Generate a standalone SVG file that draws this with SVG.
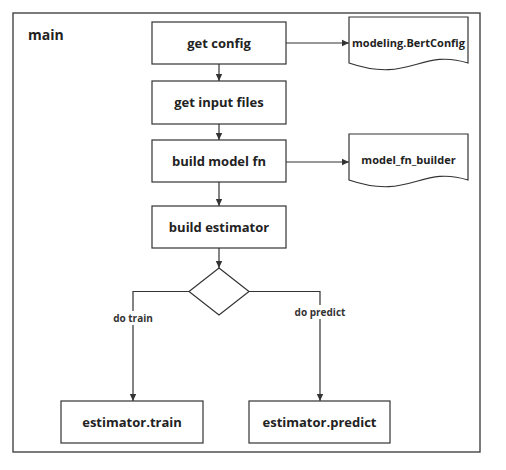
<svg xmlns="http://www.w3.org/2000/svg" width="506" height="470" viewBox="0 0 506 470">
<style>
.box{fill:#fff;stroke:#333;stroke-width:1.2}
.lbl{font-family:"Open Sans","Noto Sans",sans-serif;font-weight:bold;font-size:13px;fill:#222;text-anchor:middle}
.doc{font-family:"Open Sans","Noto Sans",sans-serif;font-weight:bold;font-size:11px;fill:#222;text-anchor:middle}
.edge{fill:none;stroke:#333;stroke-width:1.2}
.elbl{font-family:"Open Sans","Noto Sans",sans-serif;font-weight:bold;font-size:10px;fill:#333;text-anchor:middle}
</style>
<defs>
<marker id="arr" markerWidth="8" markerHeight="8" refX="7" refY="4" orient="auto" markerUnits="userSpaceOnUse">
<path d="M0,0.8 L7,4 L0,7.2 Z" fill="#333"/>
</marker>
</defs>
<rect width="506" height="470" fill="#fff"/>
<g id="frame">
<rect x="13" y="13" width="467" height="439" fill="none" stroke="#444" stroke-width="1.4"/>
<text x="28" y="40" font-family="Open Sans,Noto Sans,sans-serif" font-weight="bold" font-size="14" fill="#222">main</text>
</g>
<g id="get-config"><rect class="box" x="152" y="22" width="134" height="42"/><text class="lbl" x="219" y="48">get config</text></g>
<g id="get-input-files"><rect class="box" x="152" y="81" width="134" height="43"/><text class="lbl" x="219" y="107">get input files</text></g>
<g id="build-model-fn"><rect class="box" x="152" y="140" width="134" height="42"/><text class="lbl" x="219" y="166">build model fn</text></g>
<g id="build-estimator"><rect class="box" x="152" y="206" width="134" height="42"/><text class="lbl" x="219" y="232">build estimator</text></g>
<g id="decision"><path class="box" d="M219,268 L249,291.5 L219,315 L189,291.5 Z"/></g>
<g id="estimator-train"><rect class="box" x="61" y="401" width="142" height="42"/><text class="lbl" x="132" y="427">estimator.train</text></g>
<g id="estimator-predict"><rect class="box" x="249" y="401" width="141" height="42"/><text class="lbl" x="319.5" y="427">estimator.predict</text></g>
<g id="modeling-bertconfig"><path class="box" d="M349,17 L468,17 L468,63 C420,48 410,84 349,63 Z"/><text class="doc" x="408.5" y="47">modeling.BertConfig</text></g>
<g id="model-fn-builder"><path class="box" d="M349,134 L468,134 L468,180 C420,165 410,201 349,180 Z"/><text class="doc" x="408.5" y="164">model_fn_builder</text></g>
<g id="connectors">
<path class="edge" d="M219,64 L219,81" marker-end="url(#arr)"/>
<path class="edge" d="M219,124 L219,140" marker-end="url(#arr)"/>
<path class="edge" d="M219,182 L219,206" marker-end="url(#arr)"/>
<path class="edge" d="M219,248 L219,268" marker-end="url(#arr)"/>
<path class="edge" d="M286,43 L349,43" marker-end="url(#arr)"/>
<path class="edge" d="M286,162 L349,162" marker-end="url(#arr)"/>
<path class="edge" d="M189,291.5 L133,291.5 L133,401" marker-end="url(#arr)"/>
<path class="edge" d="M249,291.5 L320,291.5 L320,401" marker-end="url(#arr)"/>
<rect x="110" y="311" width="46" height="14" fill="#fff"/>
<text class="elbl" x="133" y="322">do train</text>
<rect x="292" y="305" width="56" height="14" fill="#fff"/>
<text class="elbl" x="320" y="316">do predict</text>
</g>
</svg>
